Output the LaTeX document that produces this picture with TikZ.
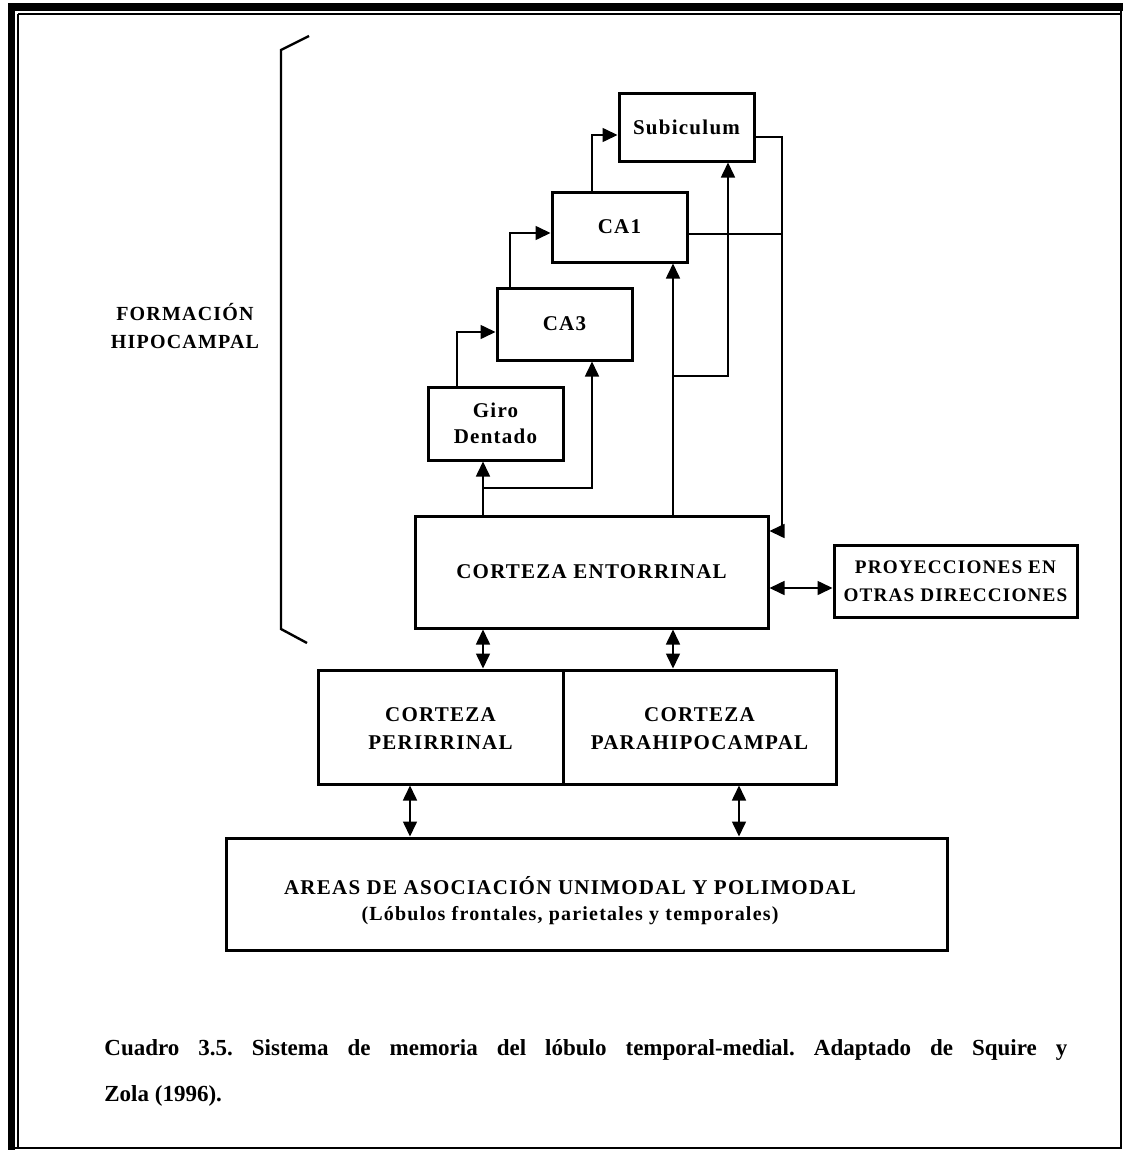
\documentclass[tikz,border=0pt]{standalone}
\usepackage{fontspec}
\setmainfont{Liberation Serif}
\newfontfamily\lblfont{Liberation Serif Bold}[LetterSpace=6]
\usetikzlibrary{arrows.meta,fit}

\begin{document}
\begin{tikzpicture}[x=0.5pt,y=-0.5pt,
  blk/.style={draw, line width=1.5pt, inner sep=0pt},
  lbl/.style={align=center, inner sep=0pt, font=\lblfont\fontsize{10.5}{13}\selectfont},
  conn/.style={line width=0.8pt},
  tip/.style={-{Triangle[length=7.5pt,width=7pt]}},
  both/.style={{Triangle[length=7.5pt,width=7pt]}-{Triangle[length=7.5pt,width=7pt]}},
  caption/.style={font=\bfseries\fontsize{11.5}{14}\selectfont, inner sep=0pt, anchor=base west}
]
\useasboundingbox (0,0) rectangle (1125,1151);
\fill[white] (0,0) rectangle (1125,1151);

% page frame: heavy rule on top and left, thin rules elsewhere
\fill (8,3) rectangle (1123,11);
\fill (8,3) rectangle (15,1150);
\draw[line width=0.8pt] (18,14) -- (1121,14);
\draw[line width=0.8pt] (18,14) -- (18,1149);
\draw[line width=1.4pt] (1121,3) -- (1121,1149);
\draw[line width=1pt] (8,1148) -- (1122,1148);

% boxes
\node[blk, fit={(619,93)(754,161)}] (sub) {};
\node[blk, fit={(552,192)(687,262)}] (ca1) {};
\node[blk, fit={(497,288)(632,360)}] (ca3) {};
\node[blk, fit={(428,387)(563,460)}] (giro) {};
\node[blk, fit={(415,516)(768,628)}] (ent) {};
\node[blk, fit={(834,545)(1077,617)}] (proy) {};
\node[blk, fit={(318,670)(563,784)}] (peri) {};
\node[blk, fit={(563,670)(836,784)}] (para) {};
\node[blk, fit={(226,838)(947,950)}] (areas) {};

% box labels
\node[lbl] (subT) at (sub.center) {Subiculum};
\node[lbl] (ca1T) at (ca1.center) {CA1};
\node[lbl] (ca3T) at (ca3.center) {CA3};
\node[lbl] (giroT) at (giro.center) {Giro\\Dentado};
\node[lbl] (entT) at (ent.center) {CORTEZA ENTORRINAL};
\node[lbl, font=\lblfont\fontsize{9.6}{14}\selectfont] (proyT) at (proy.center) {PROYECCIONES EN\\OTRAS DIRECCIONES};
\node[lbl, font=\lblfont\fontsize{10.5}{14}\selectfont] (periT) at ([yshift=-1pt]peri.center) {CORTEZA\\PERIRRINAL};
\node[lbl, font=\lblfont\fontsize{10.5}{14}\selectfont] (paraT) at ([yshift=-1pt]para.center) {CORTEZA\\PARAHIPOCAMPAL};
\node[lbl] (areasA) at (570,886) {AREAS DE ASOCIACIÓN UNIMODAL Y POLIMODAL};
\node[lbl, font=\lblfont\fontsize{10}{10}\selectfont] (areasB) at (570,916) {(Lóbulos frontales, parietales y temporales)};

% bracket and its label
\coordinate (bt) at (309,36);
\coordinate (bb) at (307,643);
\draw[line width=1.2pt] (bt) -- (281,50) -- (281,629) -- (bb);
\node[lbl, font=\lblfont\fontsize{10}{14}\selectfont] (form) at (185,326) {FORMACIÓN\\HIPOCAMPAL};

% bend points
\coordinate (g1) at (457,332);
\coordinate (c3) at (510,233);
\coordinate (c1) at (592,135);
\coordinate (e1) at (483,488);
\coordinate (e2) at (592,488);
\coordinate (e3) at (673,376);
\coordinate (e4) at (728,376);
\coordinate (r1) at (782,137);
\coordinate (r2) at (782,531);
\coordinate (r3) at (782,234);
\coordinate (pp) at (800,588);
\coordinate (a1) at (410,810);
\coordinate (a2) at (739,810);

% trisynaptic chain
\draw[conn,tip] (giro.north -| g1) -- (g1) -- (ca3.west |- g1);
\draw[conn,tip] (ca3.north -| c3) -- (c3) -- (ca1.west |- c3);
\draw[conn,tip] (ca1.north -| c1) -- (c1) -- (sub.west |- c1);

% entorhinal inputs
\draw[conn,tip] (ent.north -| e1) -- (giro.south -| e1);
\draw[conn,tip] (e1) -- (e2) -- (ca3.south -| e2);
\draw[conn,tip] (ent.north -| e3) -- (ca1.south -| e3);
\draw[conn,tip] (e3) -- (e4) -- (sub.south -| e4);

% return path to entorhinal cortex
\draw[conn,tip] (sub.east |- r1) -- (r1) -- (r2) -- (ent.east |- r2);
\draw[conn] (ca1.east |- r3) -- (r3);

% reciprocal links
\draw[conn,both] (ent.east |- pp) -- (proy.west |- pp);
\draw[conn,both] (ent.south -| e1) -- (peri.north -| e1);
\draw[conn,both] (ent.south -| e3) -- (para.north -| e3);
\draw[conn,both] (peri.south -| a1) -- (areas.north -| a1);
\draw[conn,both] (para.south -| a2) -- (areas.north -| a2);

% caption
\node[caption] (cap1) at (104,1055) {\frenchspacing\makebox[481.5pt][s]{Cuadro 3.5. Sistema de memoria del lóbulo temporal-medial. Adaptado de Squire y}};
\node[caption] (cap2) at (104,1101) {Zola (1996).};
\end{tikzpicture}
\end{document}
